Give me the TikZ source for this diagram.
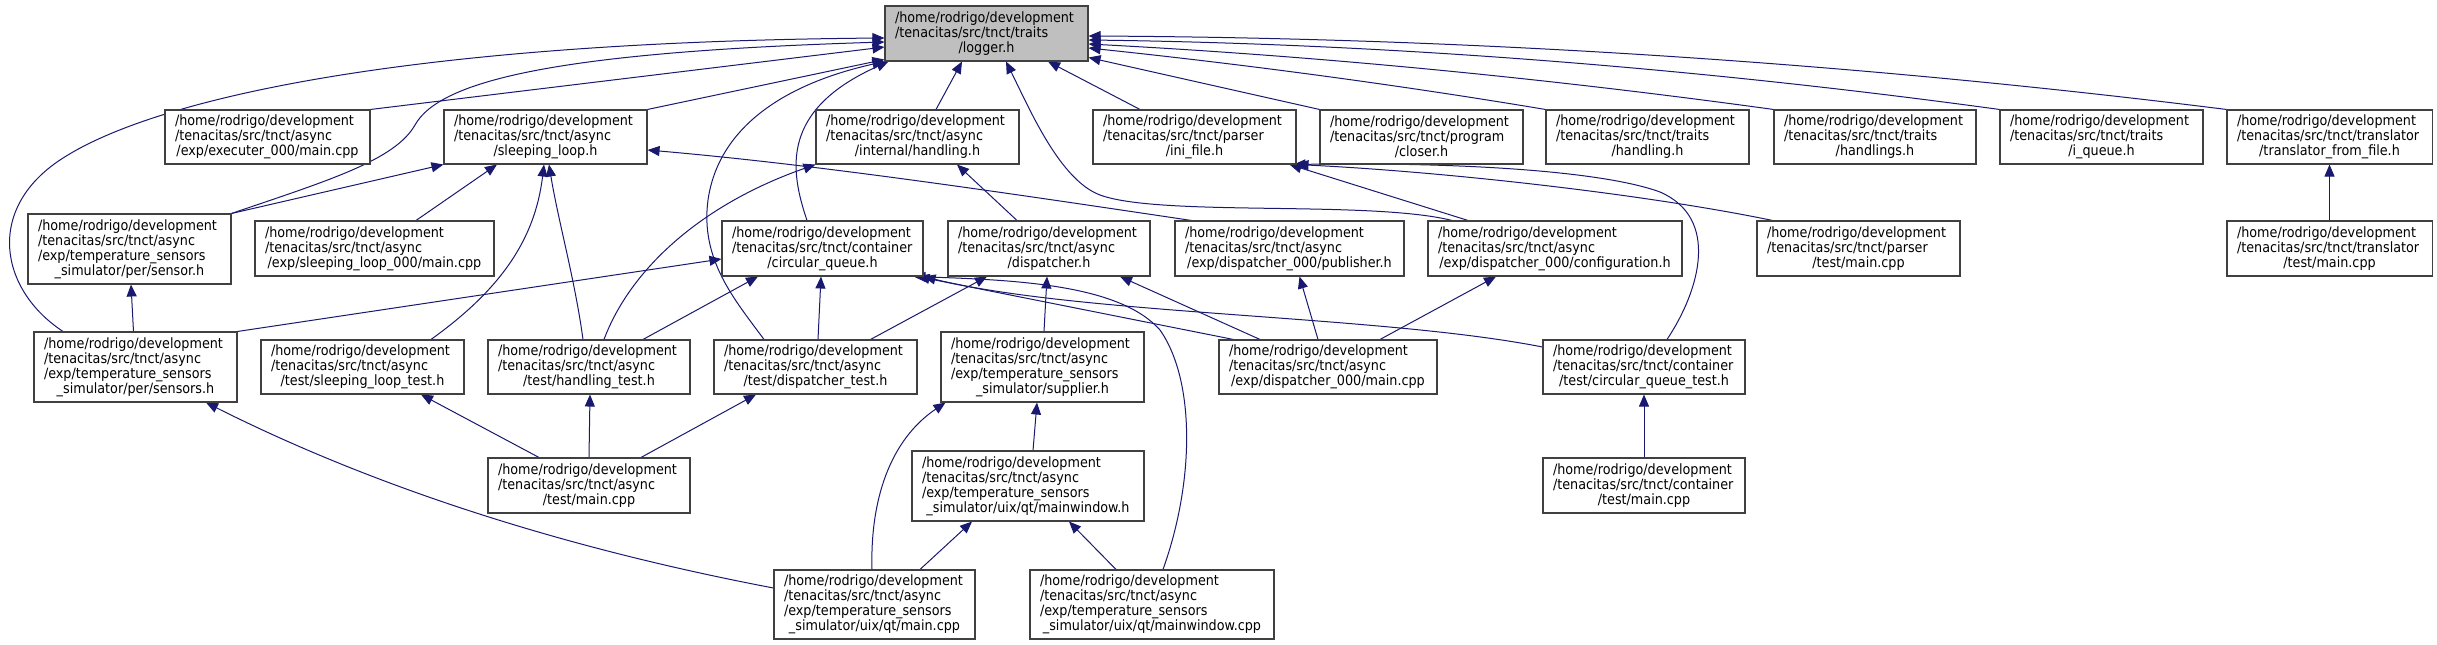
\documentclass[tikz,border=0pt]{standalone}
\usepackage{fontspec}
\setmainfont{DejaVu Sans Condensed}
\usetikzlibrary{arrows.meta}
\pgfdeclarelayer{bg}
\pgfsetlayers{bg,main}
\definecolor{edgeblue}{HTML}{191970}
\definecolor{boxline}{HTML}{404040}
\tikzset{
 filebox/.style={draw=boxline, line width=0.8pt, fill=white, inner xsep=7.5pt, inner ysep=0pt,
   align=left, font=\fontsize{10.65pt}{11.25pt}\selectfont, text=black},
 edge/.style={draw=edgeblue, line width=0.75pt, -{Triangle[length=9pt,width=7.5pt]}},
}
\newcommand\fl[1]{\makebox[\fntw][l]{#1}\\}
\newcommand\homedev{\fl{/home/rodrigo/development}}
\newcommand\tnct[1]{\fl{/tenacitas/src/tnct/#1}}
\newcommand\fnode[8][]{%
  \pgfmathsetlengthmacro\fnw{#5*0.75pt}%
  \pgfmathsetlengthmacro\fnh{#6*0.75pt}%
  \pgfmathsetlengthmacro\fntw{(#5-20)*0.75pt}%
  \node[filebox,#1,minimum width=\fnw,minimum height=\fnh,text width=\fntw] (#2) at (#3+#5/2,#4+#6/2) {#7\makebox[\fntw][c]{#8}};%
}
\begin{document}
\begin{tikzpicture}[x=0.75pt,y=-0.75pt]
\useasboundingbox (0,0) rectangle (2437,645);
\begin{pgfonlayer}{bg}
\fill[white] (0,0) rectangle (2437,645);
\end{pgfonlayer}
% row 0
\fnode[fill=black!25]{logger}{885}{6}{203}{55}{\homedev\tnct{traits}}{/logger.h}
% row 1
\fnode{execm}{165}{110}{205}{54}{\homedev\tnct{async}}{/exp/executer\_000/main.cpp}
\fnode{sloop}{444}{110}{203}{54}{\homedev\tnct{async}}{/sleeping\_loop.h}
\fnode{ihand}{816}{110}{203}{54}{\homedev\tnct{async}}{/internal/handling.h}
\fnode{inif}{1093}{110}{203}{54}{\homedev\tnct{parser}}{/ini\_file.h}
\fnode{closer}{1320}{110}{203}{54}{\homedev\tnct{program}}{/closer.h}
\fnode{thand}{1546}{110}{203}{54}{\homedev\tnct{traits}}{/handling.h}
\fnode{thands}{1774}{110}{202}{54}{\homedev\tnct{traits}}{/handlings.h}
\fnode{iq}{2000}{110}{203}{54}{\homedev\tnct{traits}}{/i\_queue.h}
\fnode{tff}{2227}{110}{205}{54}{\homedev\tnct{translator}}{/translator\_from\_file.h}
% row 2
\fnode{sensor}{28}{214}{203}{70}{\homedev\tnct{async}\fl{/exp/temperature\_sensors}}{\_simulator/per/sensor.h}
\fnode{slmain}{255}{221}{239}{55}{\homedev\tnct{async}}{/exp/sleeping\_loop\_000/main.cpp}
\fnode{cq}{722}{221}{201}{55}{\homedev\tnct{container}}{/circular\_queue.h}
\fnode{disp}{948}{221}{202}{55}{\homedev\tnct{async}}{/dispatcher.h}
\fnode{pub}{1175}{221}{229}{55}{\homedev\tnct{async}}{/exp/dispatcher\_000/publisher.h}
\fnode{conf}{1428}{221}{254}{55}{\homedev\tnct{async}}{/exp/dispatcher\_000/configuration.h}
\fnode{ptest}{1757}{221}{203}{55}{\homedev\tnct{parser}}{/test/main.cpp}
\fnode{ttest}{2227}{221}{205}{55}{\homedev\tnct{translator}}{/test/main.cpp}
% row 3
\fnode{sensors}{34}{332}{203}{70}{\homedev\tnct{async}\fl{/exp/temperature\_sensors}}{\_simulator/per/sensors.h}
\fnode{sltest}{261}{340}{203}{54}{\homedev\tnct{async}}{/test/sleeping\_loop\_test.h}
\fnode{htest}{488}{340}{202}{54}{\homedev\tnct{async}}{/test/handling\_test.h}
\fnode{dtest}{714}{340}{203}{54}{\homedev\tnct{async}}{/test/dispatcher\_test.h}
\fnode{supp}{941}{332}{203}{70}{\homedev\tnct{async}\fl{/exp/temperature\_sensors}}{\_simulator/supplier.h}
\fnode{dmain}{1219}{340}{218}{54}{\homedev\tnct{async}}{/exp/dispatcher\_000/main.cpp}
\fnode{cqtest}{1543}{340}{202}{54}{\homedev\tnct{container}}{/test/circular\_queue\_test.h}
% row 4
\fnode{atmain}{488}{458}{202}{55}{\homedev\tnct{async}}{/test/main.cpp}
\fnode{mwh}{912}{451}{232}{70}{\homedev\tnct{async}\fl{/exp/temperature\_sensors}}{\_simulator/uix/qt/mainwindow.h}
\fnode{ctmain}{1543}{458}{202}{55}{\homedev\tnct{container}}{/test/main.cpp}
% row 5
\fnode{qtmain}{774}{570}{201}{69}{\homedev\tnct{async}\fl{/exp/temperature\_sensors}}{\_simulator/uix/qt/main.cpp}
\fnode{mwcpp}{1030}{570}{244}{69}{\homedev\tnct{async}\fl{/exp/temperature\_sensors}}{\_simulator/uix/qt/mainwindow.cpp}

\begin{pgfonlayer}{bg}
% into logger
\draw[edge] ([shift={(-72.5,0)}]sensors.north) .. controls (0,290) and (-15,210) .. (60,160) .. controls (150,100) and (400,42) .. ([shift={(0,4.5)}]logger.west);
\draw[edge] (sensor.north east) .. controls (330,180) and (395,160) .. (415,125) .. controls (440,80) and (560,52) .. ([shift={(0,8.5)}]logger.west);
\draw[edge] (execm.north east) -- ([shift={(0,13.5)}]logger.west);
\draw[edge] (sloop.north east) -- ([shift={(0,26)}]logger.west);
\draw[edge] ([shift={(-15.5,0)}]cq.north) .. controls (790,170) and (780,110) .. ([shift={(4,0)}]logger.south west);
\draw[edge] ([shift={(-51.5,0)}]dtest.north) .. controls (735,300) and (700,260) .. (708,200) .. controls (718,130) and (780,85) .. (logger.south west);
\draw[edge] ([shift={(18.5,0)}]ihand.north) -- ([shift={(-24.5,0)}]logger.south);
\draw[edge] ([shift={(-103,0)}]conf.north) .. controls (1370,200) and (1160,217) .. (1100,195) .. controls (1060,180) and (1030,110) .. ([shift={(19.5,0)}]logger.south);
\draw[edge] ([shift={(-54.5,0)}]inif.north) -- ([shift={(61.5,0)}]logger.south);
\draw[edge] (closer.north west) -- ([shift={(0,24)}]logger.east);
\draw[edge] (thand.north west) .. controls (1393,84) and (1241,64) .. ([shift={(0,14.5)}]logger.east);
\draw[edge] (thands.north west) .. controls (1545,78) and (1317,56) .. ([shift={(0,10.5)}]logger.east);
\draw[edge] (iq.north west) .. controls (1696,68) and (1392,44) .. ([shift={(0,6.5)}]logger.east);
\draw[edge] (tff.north west) .. controls (1847,62) and (1468,38) .. ([shift={(0,2.5)}]logger.east);
% into sleeping_loop
\draw[edge] (sensor.north east) -- (sloop.south west);
\draw[edge] ([shift={(41.5,0)}]slmain.north) -- ([shift={(-48.5,0)}]sloop.south);
\draw[edge] ([shift={(68.5,0)}]sltest.north) .. controls (500,290) and (535,240) .. ([shift={(-1.5,0)}]sloop.south);
\draw[edge] ([shift={(-6,0)}]htest.north) .. controls (575,280) and (558,220) .. ([shift={(3.5,0)}]sloop.south);
\draw[edge] ([shift={(17,0)}]pub.north west) .. controls (1000,192) and (820,165) .. ([shift={(0,13)}]sloop.east);
% into internal/handling
\draw[edge] ([shift={(15,0)}]htest.north) .. controls (630,270) and (700,205) .. (ihand.south west);
\draw[edge] ([shift={(-32,0)}]disp.north) -- ([shift={(39.5,0)}]ihand.south);
% into ini_file
\draw[edge] ([shift={(-87,0)}]conf.north) -- ([shift={(-7,0)}]inif.south east);
\draw[edge] ([shift={(16,0)}]ptest.north west) .. controls (1650,195) and (1450,172) .. (inif.south east);
\draw[edge] ([shift={(23,0)}]cqtest.north) .. controls (1700,290) and (1720,218) .. (1660,192) .. controls (1600,170) and (1450,162) .. ([shift={(-3,0)}]inif.south east);
% translator
\draw[edge] (ttest.north) -- (tff.south);
% into sensor.h
\draw[edge] ([shift={(-2,0)}]sensors.north) -- ([shift={(1.5,0)}]sensor.south);
% into circular_queue
\draw[edge] (sensors.north east) -- ([shift={(0,10.5)}]cq.west);
\draw[edge] ([shift={(54,0)}]htest.north) -- ([shift={(-64.5,0)}]cq.south);
\draw[edge] ([shift={(2.5,0)}]dtest.north) -- ([shift={(-1.5,0)}]cq.south);
\draw[edge] ([shift={(15,0)}]dmain.north west) -- ([shift={(-6,0)}]cq.south east);
\draw[edge] ([shift={(0,-20)}]cqtest.west) .. controls (1380,315) and (1080,315) .. (cq.south east);
\draw[edge] ([shift={(11,0)}]mwcpp.north) .. controls (1195,480) and (1195,380) .. (1160,330) .. controls (1120,285) and (1020,280) .. ([shift={(-10,0)}]cq.south east);
% into dispatcher
\draw[edge] ([shift={(55,0)}]dtest.north) -- ([shift={(-62,0)}]disp.south);
\draw[edge] ([shift={(1.5,0)}]supp.north) -- ([shift={(-2,0)}]disp.south);
\draw[edge] ([shift={(-68,0)}]dmain.north) -- ([shift={(71,0)}]disp.south);
% dispatcher_000
\draw[edge] ([shift={(-10,0)}]dmain.north) -- ([shift={(10,0)}]pub.south);
\draw[edge] ([shift={(52,0)}]dmain.north) -- ([shift={(-59,0)}]conf.south);
% supplier, mainwindow
\draw[edge] ([shift={(-2.5,0)}]qtmain.north) .. controls (870,500) and (890,440) .. ([shift={(5,0)}]supp.south west);
\draw[edge] ([shift={(5,0)}]mwh.north) -- ([shift={(-5.5,0)}]supp.south);
\draw[edge] ([shift={(45.5,0)}]qtmain.north) -- ([shift={(-56,0)}]mwh.south);
\draw[edge] ([shift={(-36,0)}]mwcpp.north) -- ([shift={(41,0)}]mwh.south);
% sensors
\draw[edge] ([shift={(0,-16.5)}]qtmain.west) .. controls (600,555) and (400,500) .. ([shift={(70.5,0)}]sensors.south);
% tests
\draw[edge] ([shift={(-50,0)}]atmain.north) -- ([shift={(58.5,0)}]sltest.south);
\draw[edge] (atmain.north) -- ([shift={(1,0)}]htest.south);
\draw[edge] ([shift={(52,0)}]atmain.north) -- ([shift={(-59.5,0)}]dtest.south);
\draw[edge] (ctmain.north) -- (cqtest.south);
\end{pgfonlayer}
\end{tikzpicture}
\end{document}
